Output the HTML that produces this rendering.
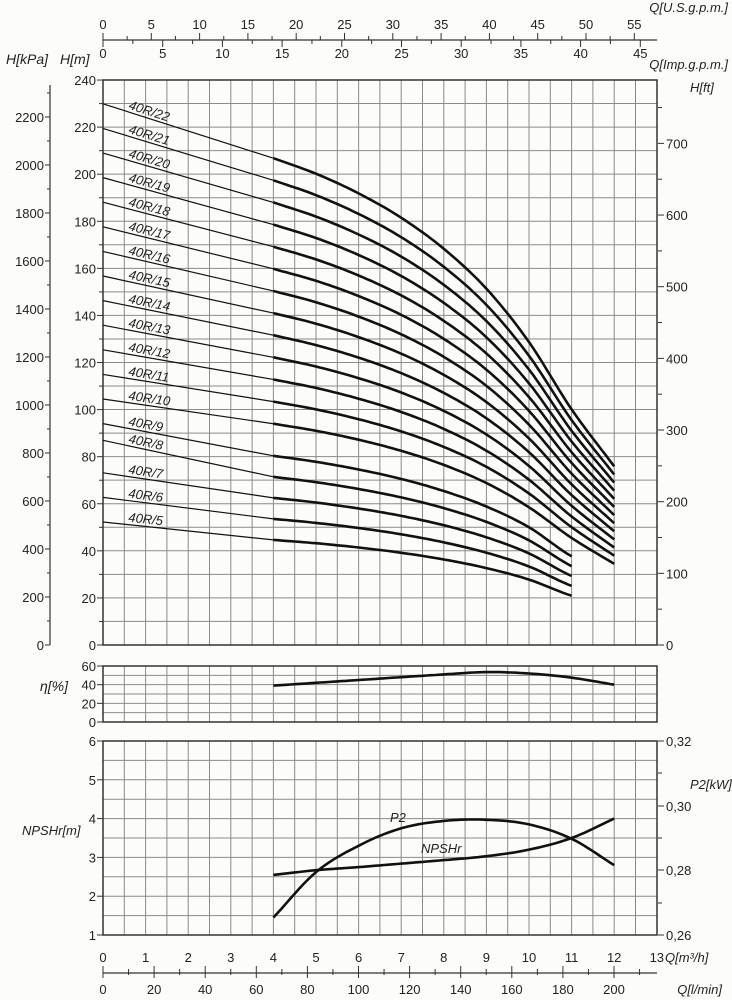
<!DOCTYPE html>
<html><head><meta charset="utf-8"><style>
body{margin:0;background:#fcfcfa;}
svg{display:block;font-family:"Liberation Sans",sans-serif;}
</style></head><body>
<svg id="s" width="732" height="1000" xmlns="http://www.w3.org/2000/svg"></svg>
<script>
const s=document.getElementById('s');let h='';
const X=q=>103+q*42.6;
const YH=m=>645-m*2.354;
const YE=e=>722-e*0.933;
const YN=n=>935-(n-1)*38.8;
function L(x1,y1,x2,y2,c,w){h+=`<line x1="${x1}" y1="${y1}" x2="${x2}" y2="${y2}" stroke="${c}" stroke-width="${w}"/>`;}
function T(x,y,t,a,sz,it,extra){h+=`<text x="${x}" y="${y}" font-size="${sz||13}" text-anchor="${a||'start'}" ${it?'font-style="italic"':''} ${extra||''} fill="#222">${t}</text>`;}
const G='#8a8a8a';
function panel(y0,y1,step){
 for(let q=0.5;q<13;q+=0.5)L(X(q),y0,X(q),y1,G,1);
 for(let y=y0+step;y<y1-0.5;y+=step)L(103,y,657,y,G,1);
 h+=`<rect x="103" y="${y0}" width="554" height="${y1-y0}" fill="none" stroke="#333" stroke-width="1.5"/>`;
}
panel(80,645,23.54);panel(666,722,9.33);panel(741,935,19.4);
for(let m=0;m<=240;m+=20){L(97,YH(m),103,YH(m),'#333',1);T(96,YH(m)+5,m,'end');}
for(let m=10;m<240;m+=20)L(99,YH(m),103,YH(m),'#333',1);
for(let e=0;e<=60;e+=20){L(97,YE(e),103,YE(e),'#333',1);T(96,YE(e)+5,e,'end');}
for(let n=1;n<=6;n++){L(97,YN(n),103,YN(n),'#333',1);T(96,YN(n)+5,n,'end');}
L(50,85,50,645,'#333',1.2);
for(let k=0;k<=2300;k+=100){let y=645-k*0.24;L(k%200?47:45,y,50,y,'#333',1);if(k%200==0)T(44,y+5,k,'end');}
for(let f=0;f<=780;f+=50){let y=645-f*0.7166;L(658,y,f%100?662:664,y,'#333',1);if(f%100==0)T(666,y+5,f);}
[[0.32,741],[0.30,806],[0.28,870],[0.26,935]].forEach(([v,y])=>{L(658,y,664,y,'#333',1);T(666,y+5,v.toFixed(2).replace('.',','));});
[773,838,903].forEach(y=>L(658,y,662,y,'#333',1));
L(103,40,657,40,'#333',1.2);
for(let g=0;g<=57;g+=2.5){let x=103+g*9.66;if(x>657)break;L(x,g%5?36:33,x,40,'#333',1);if(g%5==0)T(x,29,g,'middle');}
for(let g=0;g<=46;g+=2.5){let x=103+g*11.94;if(x>657)break;L(x,40,x,g%5?44:47,'#333',1);if(g%5==0)T(x,58,g,'middle');}
T(728,12,'Q[U.S.g.p.m.]','end',13,1);T(728,69,'Q[Imp.g.p.m.]','end',13,1);
T(6,64,'H[kPa]','start',14,1);T(60,64,'H[m]','start',14,1);
T(690,92,'H[ft]','start',13,1);T(40,691,'η[%]','start',14,1);
T(22,835,'NPSHr[m]','start',13,1);T(690,789,'P2[kW]','start',13,1);
for(let q=0;q<=13;q++)T(X(q),962,q,'middle');
T(665,962,'Q[m³/h]','start',13,1);
L(103,973,657,973,'#333',1.2);
for(let l=0;l<=216;l+=10){let x=103+l*2.555;L(x,973,x,l%20?969:966,'#333',1);L(x,973,x,l%20?975:978,'#333',1);if(l%20==0)T(x,994,l,'middle');}
T(722,994,'Q[l/min]','end',13,1);
function interp(pts,q){for(let i=0;i<pts.length-1;i++){const[a,b]=[pts[i],pts[i+1]];if(q<=b[0]){const p0=pts[Math.max(0,i-1)],p3=pts[Math.min(pts.length-1,i+2)];const t=(q-a[0])/(b[0]-a[0]);const m1=(b[1]-p0[1])/(b[0]-p0[0])*(b[0]-a[0]);const m2=(p3[1]-a[1])/(p3[0]-a[0])*(b[0]-a[0]);const t2=t*t,t3=t2*t;return(2*t3-3*t2+1)*a[1]+(t3-2*t2+t)*m1+(-2*t3+3*t2)*b[1]+(t3-t2)*m2;}}return pts[pts.length-1][1];}
function path(pts,q0,q1,fx,fy){let d='';for(let q=q0;q<=q1+1e-6;q+=0.1){d+=(d?'L':'M')+fx(q).toFixed(1)+','+fy(interp(pts,q)).toFixed(1);}return d;}
const ps=[[4,9.4],[5,9.1],[6,8.72],[7,8.25],[8,7.65],[9,6.88],[10,5.85],[11,4.55],[12,3.45]];
for(let n=5;n<=22;n++){
 const sm=n<=9;
 const h0=10.45*n*(n==8?1.04:1),h4=9.4*n*(sm?0.95:1);
 L(X(0),YH(h0),X(4),YH(h4),'#111',1.2);
 const end=sm?11:12;
 const pts=ps.map(p=>[p[0],p[1]*n*(sm?(p[0]==11?0.92:0.95):1)]);
 h+=`<path d="${path(pts,4,end,X,YH)}" fill="none" stroke="#111" stroke-width="2.6"/>`;
 const ang=Math.atan((YH(h4)-YH(h0))/(X(4)-X(0)))*180/Math.PI;
 const lx=128,ly=YH(h0)+(YH(h4)-YH(h0))*(lx-103)/170-3;
 h+=`<text x="${lx}" y="${ly}" font-size="13" font-style="italic" fill="#222" transform="rotate(${ang.toFixed(1)} ${lx} ${ly})">40R/${n}</text>`;
}
const eta=[[4,39],[6,45],[8,51],[9,53.5],[10,52],[11,47.5],[12,40]];
h+=`<path d="${path(eta,4,12,X,YE)}" fill="none" stroke="#111" stroke-width="2.6"/>`;
const np=[[4,2.55],[5,2.67],[6,2.75],[7,2.84],[8,2.93],[9,3.03],[10,3.2],[11,3.5],[12,4.0]];
h+=`<path d="${path(np,4,12,X,YN)}" fill="none" stroke="#111" stroke-width="2.6"/>`;
const p2=[[4,1.45],[5,2.62],[6,3.3],[7,3.75],[8,3.94],[9,3.97],[10,3.85],[11,3.48],[12,2.8]];
h+=`<path d="${path(p2,4,12,X,YN)}" fill="none" stroke="#111" stroke-width="2.6"/>`;
T(390,822,'P2','start',13,1);T(421,853,'NPSHr','start',13,1);
s.innerHTML=h;
</script>
</body></html>
